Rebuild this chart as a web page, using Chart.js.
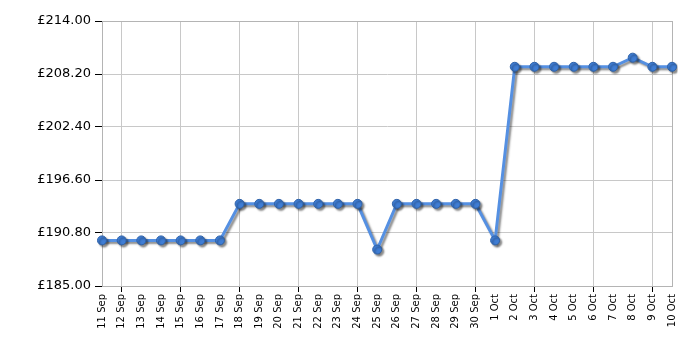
<!DOCTYPE html>
<html>
<head>
<meta charset="utf-8">
<script src="https://cdn.jsdelivr.net/npm/chart.js@4.4.0/dist/chart.umd.min.js"></script>
<style>
  html, body { margin: 0; padding: 0; background: #fff; }
  #wrap { width: 700px; height: 350px; }
</style>
</head>
<body>
<div id="wrap"><canvas id="priceChart" width="700" height="350"></canvas></div>
<script>
// price history
const days = [
  "11 Sep", "12 Sep", "13 Sep", "14 Sep", "15 Sep", "16 Sep", "17 Sep", "18 Sep",
  "19 Sep", "20 Sep", "21 Sep", "22 Sep", "23 Sep", "24 Sep", "25 Sep", "26 Sep",
  "27 Sep", "28 Sep", "29 Sep", "30 Sep", "1 Oct", "2 Oct", "3 Oct", "4 Oct",
  "5 Oct", "6 Oct", "7 Oct", "8 Oct", "9 Oct", "10 Oct"
];
const prices = [
  189.99, 189.99, 189.99, 189.99, 189.99, 189.99, 189.99, 193.99,
  193.99, 193.99, 193.99, 193.99, 193.99, 193.99, 188.99, 193.99,
  193.99, 193.99, 193.99, 193.99, 189.99, 208.99, 208.99, 208.99,
  208.99, 208.99, 208.99, 209.99, 208.99, 208.99
];
const yTicks = [185.00, 190.80, 196.60, 202.40, 208.20, 214.00];

// every third day gets a vertical grid line (12 Sep, 15 Sep, ...)
const isGridDay = i => i % 3 === 1;

const lineShadow = {
  id: "lineShadow",
  beforeDatasetsDraw(chart) {
    const ctx = chart.ctx;
    ctx.save();
    ctx.shadowColor = "rgba(0,0,0,0.45)";
    ctx.shadowBlur = 2;
    ctx.shadowOffsetX = 2;
    ctx.shadowOffsetY = 2;
  },
  afterDatasetsDraw(chart) {
    chart.ctx.restore();
  }
};

const plotFrame = {
  id: "plotFrame",
  beforeDatasetsDraw(chart) {
    const { ctx, chartArea: a } = chart;
    ctx.save();
    ctx.strokeStyle = "#b4b4b4";
    ctx.lineWidth = 1;
    ctx.strokeRect(a.left + 0.5, a.top + 0.5, a.right - a.left, a.bottom - a.top);
    ctx.restore();
  }
};

new Chart(document.getElementById("priceChart"), {
  type: "line",
  data: {
    labels: days,
    datasets: [{
      data: prices,
      borderColor: "#5590e2",
      borderWidth: 3,
      pointRadius: 4.5,
      pointHoverRadius: 4.5,
      pointBackgroundColor: "#3f7dd4",
      pointBorderColor: "#2f62a8",
      pointBorderWidth: 1,
      tension: 0
    }]
  },
  plugins: [plotFrame, lineShadow],
  options: {
    responsive: false,
    animation: false,
    layout: { padding: { top: 21, right: 28, left: 0, bottom: 0 } },
    plugins: { legend: { display: false }, tooltip: { enabled: false } },
    scales: {
      x: {
        offset: false,
        afterFit(scale) { scale.height = 64; },
        grid: {
          color: ctx => isGridDay(ctx.index) ? "#c8c8c8" : "rgba(0,0,0,0)",
          tickColor: ctx => isGridDay(ctx.index) ? "#000" : "rgba(0,0,0,0)",
          tickLength: 6
        },
        border: { color: "#9a9a9a" },
        ticks: {
          autoSkip: false,
          maxRotation: 90,
          minRotation: 90,
          padding: 2,
          color: "#000",
          font: { family: "DejaVu Sans", size: 10 }
        }
      },
      y: {
        min: 185,
        max: 214,
        afterFit(scale) { scale.width = 102; },
        afterBuildTicks(scale) { scale.ticks = yTicks.map(v => ({ value: v })); },
        grid: { color: "#c8c8c8", tickColor: "#000", tickLength: 7 },
        border: { color: "#9a9a9a" },
        ticks: {
          padding: 4,
          color: "#000",
          font: { family: "DejaVu Sans", size: 13 },
          callback: v => "£" + Number(v).toFixed(2)
        }
      }
    }
  }
});
</script>
</body>
</html>
